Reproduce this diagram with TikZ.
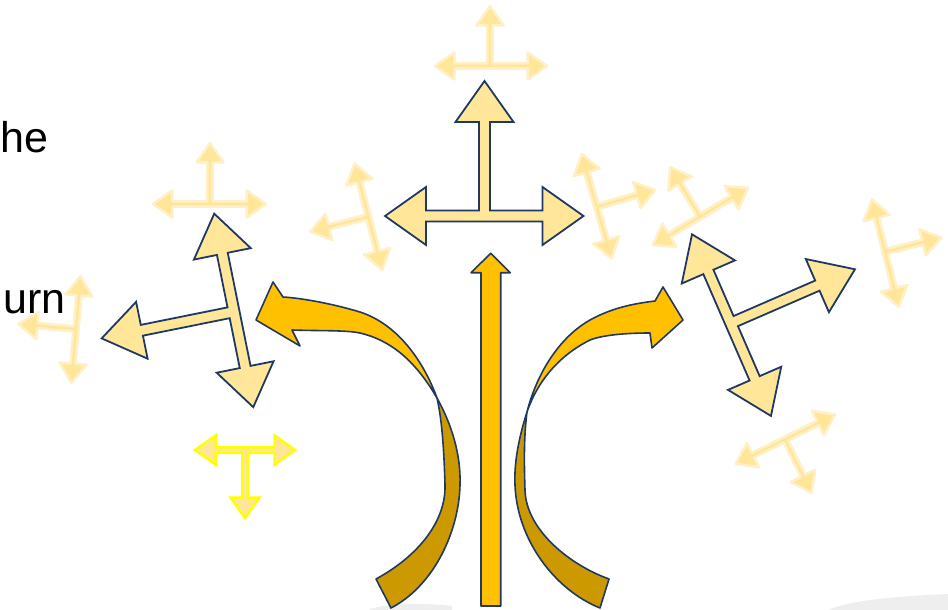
\documentclass[tikz,border=0pt]{standalone}
\usepackage{fontspec}
\setmainfont{Liberation Sans}
\usetikzlibrary{calc}
\definecolor{tmNavy}{RGB}{31,56,100}
\definecolor{tmPale}{RGB}{255,230,153}
\definecolor{tmHalo}{RGB}{255,240,200}
\definecolor{tmGold}{RGB}{255,192,0}
\definecolor{tmGoldDark}{RGB}{204,154,0}
\definecolor{tmYellow}{RGB}{255,255,0}
\definecolor{tmSmudge}{RGB}{238,238,238}

\tikzset{
  boldtee/.style={fill=tmPale, draw=tmNavy, line width=1.8pt, line join=miter},
  fadetee/.style={fill=tmPale, draw=tmHalo, line width=2.5pt, line join=round},
  brighttee/.style={fill=tmPale, draw=tmYellow, line width=2.5pt, line join=miter},
  goldband/.style={fill=tmGold, draw=tmNavy, line width=1.6pt, line join=round},
  backband/.style={fill=tmGoldDark, draw=tmNavy, line width=1.6pt, line join=round},
  bigtext/.style={font=\fontsize{43}{51}\selectfont, inner sep=0pt, anchor=base east}
}

% T-shaped three-way arrow: [style]{x}{y}{rotation}{left}{right}{stem}{head scale}
\newcommand{\teearrow}[8][]{%
  \pgfmathsetmacro\tmHd{41*#8}\pgfmathsetmacro\tmHw{29*#8}\pgfmathsetmacro\tmSw{5.5*#8}%
  \begin{scope}[shift={(#2,#3)}, rotate=#4]
    \draw[#1] (0,-#7) -- (\tmHw,-#7+\tmHd) -- (\tmSw,-#7+\tmHd) -- (\tmSw,-\tmSw)
      -- (#6-\tmHd,-\tmSw) -- (#6-\tmHd,-\tmHw) -- (#6,0) -- (#6-\tmHd,\tmHw) -- (#6-\tmHd,\tmSw)
      -- (-#5+\tmHd,\tmSw) -- (-#5+\tmHd,\tmHw) -- (-#5,0) -- (-#5+\tmHd,-\tmHw) -- (-#5+\tmHd,-\tmSw)
      -- (-\tmSw,-\tmSw) -- (-\tmSw,-#7+\tmHd) -- (-\tmHw,-#7+\tmHd) -- cycle;
  \end{scope}}

\begin{document}
\begin{tikzpicture}[x=1pt, y=-1pt]
\useasboundingbox (0,0) rectangle (948,610);

% grey shadow along the bottom edge
\fill[tmSmudge] (368,610) .. controls (380,604) and (420,602) .. (452,606) -- (452,610) -- cycle;
\fill[tmSmudge] (828,610) .. controls (850,600) and (900,596) .. (948,594) -- (948,610) -- cycle;

% text at the left edge
\node[bigtext] (he) at (48.5,152) {he};
\node[bigtext] (urn) at (66,313) {urn};

% faded arrows in the back
\teearrow[fadetee]{490}{66}{0}{55}{57}{60}{0.47}
\teearrow[fadetee]{210}{204}{0}{57}{56}{61}{0.47}
\teearrow[fadetee]{76}{329}{85}{54}{53}{58}{0.47}
\teearrow[fadetee]{368.3}{216.7}{104.4}{55}{55}{60}{0.47}
\teearrow[fadetee]{596.7}{206.7}{-74}{55}{54}{61}{0.47}
\teearrow[fadetee]{700}{216.7}{31}{55}{56}{58}{0.47}
\teearrow[fadetee]{885}{251.7}{-76}{54}{57}{58}{0.47}
\teearrow[fadetee]{785}{439.3}{-153.7}{56}{55}{60}{0.47}
\teearrow[brighttee]{245}{450}{180}{50}{50}{68}{0.5}

% outlined arrows
\teearrow[boldtee]{484.5}{216}{0}{99.5}{99}{135}{1}
\teearrow[boldtee]{234}{311.7}{101.4}{97.4}{100}{135}{1}
\teearrow[boldtee]{730.7}{323.3}{-66.5}{97}{101}{135.5}{1}

% straight arrow
\draw[goldband] (481,606) -- (481,272.7) -- (471,272.7) -- (490.7,253.3) -- (510.3,272.7)
  -- (500.7,272.7) -- (500.7,606) -- cycle;

% left curved arrow
\draw[backband] (437,398) .. controls (452,425) and (461,455) .. (460,485)
  .. controls (459,530) and (435,585) .. (391,608) -- (376,579)
  .. controls (420,555) and (446,520) .. (445,485)
  .. controls (444,450) and (442,420) .. (437,398) -- cycle;
\draw[goldband] (437,398) .. controls (425,365) and (400,325) .. (360,312)
  .. controls (330,303) and (300,298) .. (283,297) -- (273,282) -- (256,320) -- (300,346) -- (292,330)
  .. controls (320,331) and (345,330) .. (360,333)
  .. controls (390,340) and (415,360) .. (437,398) -- cycle;

% right curved arrow
\draw[backband] (527,412) .. controls (518,440) and (514,465) .. (515,485)
  .. controls (517,540) and (555,590) .. (600,608) -- (609,579)
  .. controls (570,565) and (526,530) .. (525,490)
  .. controls (524,460) and (524,435) .. (527,412) -- cycle;
\draw[goldband] (527,412) .. controls (535,380) and (555,340) .. (590,320)
  .. controls (610,309) and (630,304) .. (655,301) -- (663,287) -- (683,320) -- (652,348) -- (650,333)
  .. controls (620,333) and (600,336) .. (590,340)
  .. controls (560,355) and (538,380) .. (527,412) -- cycle;
\end{tikzpicture}
\end{document}
